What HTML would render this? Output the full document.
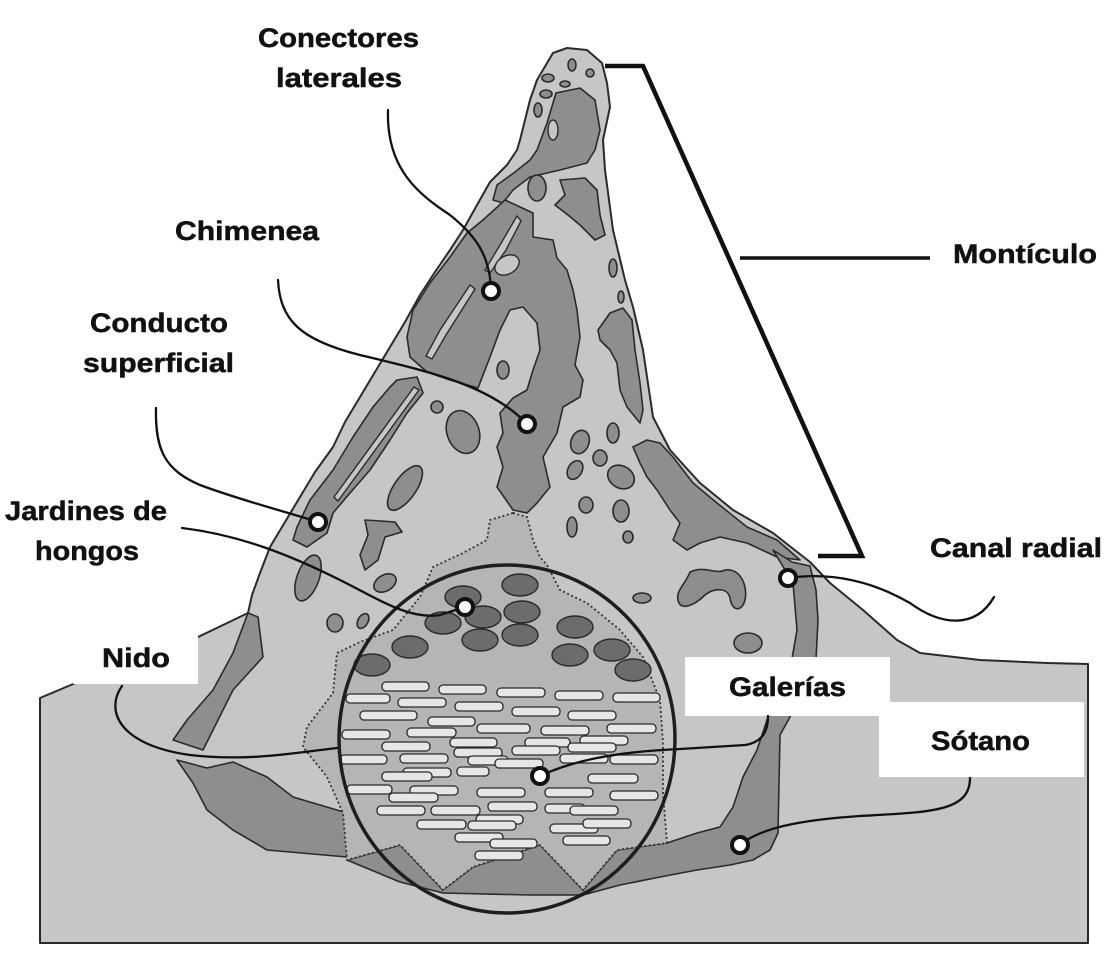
<!DOCTYPE html>
<html><head><meta charset="utf-8"><style>
html,body{margin:0;padding:0;background:#fff;}
svg{display:block;}
text{font-family:"Liberation Sans",sans-serif;font-weight:bold;font-size:27px;fill:#111;stroke:#111;stroke-width:0.5;}
</style></head><body>
<svg width="1117" height="954" viewBox="0 0 1117 954" xmlns="http://www.w3.org/2000/svg">
<rect width="1117" height="954" fill="#fff"/>
<path d="M40,698 L130,660 L198,637 L248,613 L252,595 L260,573 L270,547 L285,522 L300,497 L315,472 L333,447 L345,422 L360,397 L375,372 L390,347 L405,322 L420,295 L435,272 L450,250 L463,230 L477,205 L490,182 L507,165 L517,150 L520,140 L530,100 L537,80 L553,53 L567,48 L587,50 L602,63 L607,83 L610,107 L603,140 L605,170 L613,230 L625,280 L633,307 L643,350 L653,417 L670,450 L700,483 L733,510 L773,533 L810,562 L830,583 L863,610 L897,640 L920,653 L980,660 L1047,663 L1088,664 L1088,943 L40,943 Z" fill="#c6c6c6" stroke="#2a2a2a" stroke-width="2" stroke-linejoin="round"/>
<g fill="#8e8e8e" stroke="#2a2a2a" stroke-width="1.6" stroke-linejoin="round">
<path d="M556,93 L580,88 L595,100 L600,130 L595,150 L587,163 L560,170 L530,177 L513,190 L503,203 L493,200 L497,185 L515,172 L530,160 L537,150 L547,123 L553,103 Z"/>
<path d="M560,180 L585,178 L597,190 L600,215 L605,235 L595,240 L580,225 L568,215 L555,205 L565,195 Z"/>
<ellipse cx="537" cy="188" rx="9" ry="13"/>
<path d="M505,200 L483,220 L467,233 L450,257 L430,283 L413,310 L407,337 L410,357 L427,372 L450,380 L478,388 L490,357 L500,330 L510,310 L523,307 L537,323 L540,350 L533,370 L527,390 L513,398 L500,413 L503,433 L497,447 L503,467 L497,487 L513,510 L527,513 L537,503 L550,487 L543,457 L557,433 L563,407 L580,397 L583,380 L575,365 L580,337 L577,310 L573,290 L567,270 L557,258 L553,240 L533,237 L533,213 Z"/>
<path d="M397,380 L417,377 L423,393 L407,413 L390,440 L370,470 L350,493 L333,513 L327,533 L307,547 L293,540 L297,527 L310,500 L333,470 L353,437 L373,407 L390,387 Z"/>
<path d="M598,330 L610,313 L623,308 L632,320 L635,350 L640,383 L643,410 L640,423 L627,407 L620,390 L617,363 L610,350 L600,340 Z"/>
<path d="M633,447 L647,440 L660,443 L673,457 L693,483 L717,503 L747,527 L777,540 L800,560 L777,557 L747,543 L720,537 L700,543 L687,550 L673,540 L680,523 L670,510 L657,490 L647,477 L640,463 Z"/>
<path d="M773,550 L792,562 L810,566 L816,590 L818,620 L816,660 L800,700 L790,717 L780,735 L778,833 L770,850 L753,860 L730,865 L697,870 L660,877 L620,885 L583,895 L530,895 L443,893 L400,882 L347,860 L400,845 L443,890 L473,867 L540,845 L583,890 L617,850 L667,843 L697,833 L720,827 L733,807 L743,777 L757,750 L768,717 L790,670 L797,630 L793,583 Z"/>
<path d="M248,613 L258,617 L263,657 L233,690 L203,750 L173,740 L187,720 L213,690 L233,653 Z"/>
<path d="M177,760 L207,768 L233,762 L267,777 L293,797 L347,813 L347,857 L267,850 L233,830 L207,810 L193,783 Z"/>
<ellipse cx="463" cy="432" rx="16" ry="22" transform="rotate(-20 463 432)"/>
<ellipse cx="405" cy="488" rx="26" ry="11" transform="rotate(-55 405 488)"/>
<path d="M365,520 L395,522 L402,532 L385,537 L378,560 L365,570 L360,555 L368,535 Z"/>
<ellipse cx="308" cy="578" rx="11" ry="24" transform="rotate(20 308 578)"/>
<ellipse cx="335" cy="623" rx="8" ry="9"/>
<ellipse cx="385" cy="583" rx="12" ry="8" transform="rotate(-30 385 583)"/>
<ellipse cx="363" cy="621" rx="5" ry="8" transform="rotate(30 363 621)"/>
<ellipse cx="503" cy="370" rx="6" ry="9"/>
<ellipse cx="437" cy="407" rx="6" ry="6"/>
<ellipse cx="580" cy="442" rx="9" ry="12" transform="rotate(20 580 442)"/>
<ellipse cx="613" cy="433" rx="6" ry="10"/>
<ellipse cx="600" cy="458" rx="7" ry="8"/>
<ellipse cx="575" cy="470" rx="7" ry="10" transform="rotate(30 575 470)"/>
<ellipse cx="621" cy="477" rx="14" ry="11" transform="rotate(30 621 477)"/>
<ellipse cx="586" cy="505" rx="7" ry="8"/>
<ellipse cx="621" cy="511" rx="8" ry="11"/>
<ellipse cx="572" cy="527" rx="5" ry="10"/>
<ellipse cx="628" cy="537" rx="5" ry="6"/>
<path d="M690,572 C705,565 715,575 725,570 C740,568 748,585 745,600 C742,612 732,612 730,598 C728,588 715,587 705,595 C695,605 680,612 678,600 C676,590 685,585 690,572 Z"/>
<ellipse cx="642" cy="598" rx="9" ry="5"/>
<ellipse cx="748" cy="643" rx="14" ry="10"/>
<ellipse cx="613" cy="268" rx="4" ry="9"/>
<ellipse cx="621" cy="297" rx="3" ry="6"/>
<ellipse cx="572" cy="65" rx="4" ry="6"/>
<ellipse cx="590" cy="73" rx="4" ry="4"/>
<ellipse cx="548" cy="78" rx="6" ry="4"/>
<ellipse cx="565" cy="84" rx="5" ry="3"/>
<ellipse cx="546" cy="94" rx="6" ry="4"/>
<ellipse cx="538" cy="110" rx="4" ry="7"/>
</g>
<g fill="#c6c6c6" stroke="#2a2a2a" stroke-width="1.4">
<path d="M517,216 L521,221 L506,250 L490,273 L485,270 L500,245 Z"/>
<path d="M470,285 L475,289 L446,335 L432,359 L426,356 L440,330 Z"/>
<ellipse cx="507" cy="265" rx="13" ry="9" transform="rotate(-30 507 265)"/>
<path d="M414,387 L419,390 L346,490 L338,501 L334,497 Z"/>
<ellipse cx="553" cy="130" rx="5" ry="10"/>
</g>
<path d="M513,513 L490,520 L487,540 L463,553 L433,567 L420,597 L393,630 L360,642 L337,653 L333,693 L307,727 L303,747 L327,777 L343,813 L347,860 L400,845 L443,890 L473,867 L540,845 L583,890 L617,850 L667,843 L663,793 L663,743 L660,700 L643,657 L620,630 L587,603 L560,590 L547,565 L540,557 L533,540 L527,517 Z" fill="#b5b5b5" stroke="#333" stroke-width="1.8" stroke-dasharray="2,2.5"/>
<g fill="#6c6c6c" stroke="#2a2a2a" stroke-width="1.4">
<ellipse cx="520" cy="585" rx="18" ry="11"/>
<ellipse cx="463" cy="597" rx="18" ry="11"/>
<ellipse cx="483" cy="617" rx="18" ry="11"/>
<ellipse cx="443" cy="623" rx="18" ry="11"/>
<ellipse cx="522" cy="612" rx="18" ry="11"/>
<ellipse cx="480" cy="640" rx="18" ry="11"/>
<ellipse cx="520" cy="635" rx="18" ry="11"/>
<ellipse cx="410" cy="647" rx="18" ry="11"/>
<ellipse cx="575" cy="627" rx="18" ry="11"/>
<ellipse cx="372" cy="665" rx="18" ry="11"/>
<ellipse cx="570" cy="655" rx="18" ry="11"/>
<ellipse cx="612" cy="650" rx="18" ry="11"/>
<ellipse cx="633" cy="670" rx="18" ry="11"/>
</g>
<g fill="#e6e6e6" stroke="#2a2a2a" stroke-width="1.3">
<rect x="382" y="682" width="47" height="9" rx="4"/>
<rect x="439" y="685" width="47" height="9" rx="4"/>
<rect x="497" y="688" width="48" height="9" rx="4"/>
<rect x="555" y="691" width="48" height="9" rx="4"/>
<rect x="613" y="693" width="47" height="9" rx="4"/>
<rect x="346" y="694" width="44" height="9" rx="4"/>
<rect x="398" y="698" width="48" height="9" rx="4"/>
<rect x="455" y="702" width="48" height="9" rx="4"/>
<rect x="512" y="707" width="48" height="9" rx="4"/>
<rect x="568" y="711" width="48" height="9" rx="4"/>
<rect x="360" y="711" width="57" height="9" rx="4"/>
<rect x="428" y="717" width="47" height="9" rx="4"/>
<rect x="477" y="724" width="53" height="9" rx="4"/>
<rect x="541" y="726" width="48" height="9" rx="4"/>
<rect x="607" y="724" width="49" height="9" rx="4"/>
<rect x="342" y="730" width="48" height="9" rx="4"/>
<rect x="407" y="728" width="49" height="9" rx="4"/>
<rect x="450" y="738" width="47" height="9" rx="4"/>
<rect x="525" y="738" width="45" height="9" rx="4"/>
<rect x="580" y="736" width="48" height="9" rx="4"/>
<rect x="382" y="742" width="48" height="9" rx="4"/>
<rect x="340" y="755" width="47" height="9" rx="4"/>
<rect x="400" y="754" width="48" height="9" rx="4"/>
<rect x="454" y="748" width="48" height="9" rx="4"/>
<rect x="512" y="746" width="48" height="9" rx="4"/>
<rect x="568" y="743" width="48" height="9" rx="4"/>
<rect x="468" y="756" width="40" height="9" rx="4"/>
<rect x="495" y="759" width="48" height="9" rx="4"/>
<rect x="560" y="754" width="48" height="9" rx="4"/>
<rect x="610" y="755" width="48" height="9" rx="4"/>
<rect x="403" y="768" width="48" height="9" rx="4"/>
<rect x="382" y="772" width="50" height="9" rx="4"/>
<rect x="457" y="767" width="32" height="9" rx="4"/>
<rect x="588" y="774" width="50" height="9" rx="4"/>
<rect x="347" y="785" width="45" height="9" rx="4"/>
<rect x="410" y="786" width="48" height="9" rx="4"/>
<rect x="477" y="788" width="48" height="9" rx="4"/>
<rect x="545" y="788" width="48" height="9" rx="4"/>
<rect x="610" y="791" width="48" height="9" rx="4"/>
<rect x="389" y="793" width="49" height="9" rx="4"/>
<rect x="377" y="806" width="48" height="9" rx="4"/>
<rect x="431" y="806" width="49" height="9" rx="4"/>
<rect x="488" y="802" width="49" height="9" rx="4"/>
<rect x="545" y="804" width="40" height="9" rx="4"/>
<rect x="570" y="806" width="48" height="9" rx="4"/>
<rect x="417" y="820" width="49" height="9" rx="4"/>
<rect x="476" y="815" width="47" height="9" rx="4"/>
<rect x="468" y="821" width="48" height="9" rx="4"/>
<rect x="550" y="824" width="48" height="9" rx="4"/>
<rect x="583" y="819" width="48" height="9" rx="4"/>
<rect x="455" y="833" width="48" height="9" rx="4"/>
<rect x="490" y="839" width="47" height="9" rx="4"/>
<rect x="563" y="836" width="47" height="9" rx="4"/>
<rect x="475" y="851" width="48" height="9" rx="4"/>
</g>
<ellipse cx="507" cy="739" rx="168" ry="174" fill="none" stroke="#1e1e1e" stroke-width="3.5"/>
<rect x="73" y="600" width="125" height="84" fill="#fff"/>
<rect x="685" y="657" width="205" height="59" fill="#fff"/>
<rect x="879" y="702" width="205" height="75" fill="#fff"/>
<polyline points="605,66 643,66 862,556 818,556" fill="none" stroke="#111" stroke-width="4.5" stroke-linejoin="miter"/>
<line x1="740" y1="258" x2="930" y2="258" stroke="#111" stroke-width="3.5"/>
<g fill="none" stroke="#111" stroke-width="2.3" stroke-linecap="round">
<path d="M388,110 C386,170 420,195 450,215 C475,235 490,255 491,290"/>
<path d="M278,280 C280,320 300,340 360,355 C430,372 490,385 527,424"/>
<path d="M156,408 C155,450 165,470 200,485 C240,500 280,510 318,522"/>
<path d="M182,528 C240,535 290,555 340,580 C380,600 410,620 440,615 L465,607"/>
<path d="M122,686 C105,710 118,745 190,755 C250,762 300,752 337,748"/>
<path d="M540,776 C570,762 610,752 680,749 L745,745 C762,742 768,732 768,716"/>
<path d="M788,578 C830,572 870,580 910,603 C940,625 975,630 994,597"/>
<path d="M740,845 C760,828 800,820 860,816 C930,812 970,812 970,778"/>
</g>
<g fill="#fff" stroke="#111" stroke-width="4">
<circle cx="491" cy="291" r="8"/>
<circle cx="527" cy="424" r="8"/>
<circle cx="318" cy="522" r="8"/>
<circle cx="465" cy="607" r="8"/>
<circle cx="540" cy="776" r="8"/>
<circle cx="788" cy="578" r="8"/>
<circle cx="740" cy="845" r="8"/>
</g>
<text x="258" y="47" textLength="161" lengthAdjust="spacingAndGlyphs">Conectores</text>
<text x="276" y="87" textLength="126" lengthAdjust="spacingAndGlyphs">laterales</text>
<text x="175" y="240" textLength="144" lengthAdjust="spacingAndGlyphs">Chimenea</text>
<text x="90" y="332" textLength="138" lengthAdjust="spacingAndGlyphs">Conducto</text>
<text x="83" y="372" textLength="151" lengthAdjust="spacingAndGlyphs">superficial</text>
<text x="5" y="520" textLength="162" lengthAdjust="spacingAndGlyphs">Jardines de</text>
<text x="35" y="560" textLength="104" lengthAdjust="spacingAndGlyphs">hongos</text>
<text x="102" y="667" textLength="68" lengthAdjust="spacingAndGlyphs">Nido</text>
<text x="953" y="263" textLength="144" lengthAdjust="spacingAndGlyphs">Montículo</text>
<text x="930" y="557" textLength="172" lengthAdjust="spacingAndGlyphs">Canal radial</text>
<text x="729" y="696" textLength="117" lengthAdjust="spacingAndGlyphs">Galerías</text>
<text x="931" y="750" textLength="99" lengthAdjust="spacingAndGlyphs">Sótano</text>
</svg>
</body></html>
